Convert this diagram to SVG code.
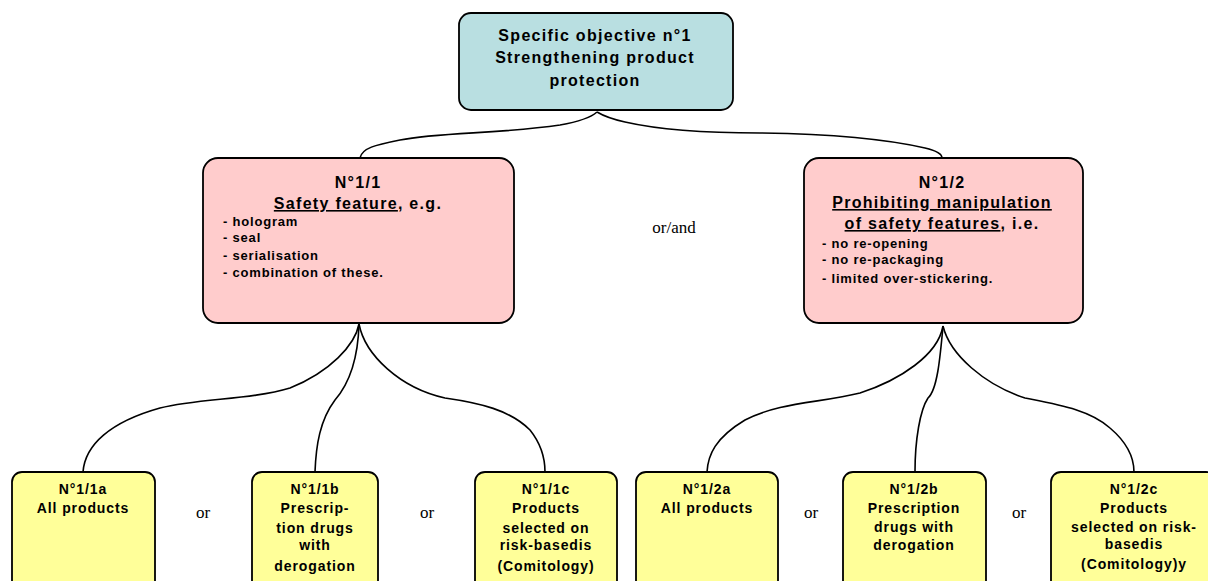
<svg xmlns="http://www.w3.org/2000/svg" width="1208" height="581" viewBox="0 0 1208 581">
<style>
.box{stroke:#000;stroke-width:1.8}
.blue{fill:#b9dfe1}
.pink{fill:#ffcccc}
.yel{fill:#ffff99}
.t{font-family:"Liberation Sans",Arial,sans-serif;font-weight:bold;fill:#000}
.h{font-size:16px;letter-spacing:1.3px;text-anchor:middle}
.b{font-size:13px;letter-spacing:0.8px}
.y{font-size:14px;letter-spacing:0.9px;text-anchor:middle}
.s{font-family:"Liberation Serif","Times New Roman",serif;font-size:17px;fill:#000;text-anchor:middle}
.c{fill:none;stroke:#000;stroke-width:1.6}
.u{text-decoration:underline}
</style>
<rect width="1208" height="581" fill="#fff"/>
<g id="connectors">
<path class="c" d="M597,112 Q588,120 560,125 C500,134 440,132 400,140 C375,145 362,148 360,158"/>
<path class="c" d="M597,112 Q607,118 625,122 C660,130 700,133 760,133 C830,134 890,140 925,148 C938,151 942,154 942,158"/>
<path class="c" d="M359,324 C355,345 330,372 290,388 C250,400 200,398 160,408 C110,422 85,445 83,472"/>
<path class="c" d="M359,324 C358,360 348,385 335,400 C320,420 316,445 315,472"/>
<path class="c" d="M359,324 C365,355 400,388 445,398 C480,403 510,410 530,430 C542,445 545,460 545,472"/>
<path class="c" d="M943,326 C938,355 900,380 860,393 C820,403 780,402 745,420 C715,438 708,455 707,472"/>
<path class="c" d="M943,326 C940,360 937,390 928,398 C920,410 915,440 915,472"/>
<path class="c" d="M943,326 C950,355 985,385 1025,398 C1060,405 1090,410 1110,428 C1130,445 1134,460 1134,472"/>
</g>
<g id="objective">
<rect class="box blue" x="459" y="13" width="274" height="97" rx="12"/>
<text class="t h" x="595" y="41">Specific objective n°1</text>
<text class="t h" x="595" y="63">Strengthening product</text>
<text class="t h" x="595" y="86">protection</text>
</g>
<g id="n11">
<rect class="box pink" x="203" y="158" width="311" height="165" rx="15"/>
<text class="t h" x="358" y="188">N°1/1</text>
<text class="t h" x="358" y="209"><tspan class="u">Safety feature</tspan>, e.g.</text>
<text class="t b" x="223" y="226">- hologram</text>
<text class="t b" x="223" y="242">- seal</text>
<text class="t b" x="223" y="260">- serialisation</text>
<text class="t b" x="223" y="277">- combination of these.</text>
</g>
<g id="n12">
<rect class="box pink" x="804" y="158" width="279" height="165" rx="15"/>
<text class="t h" x="942" y="188">N°1/2</text>
<text class="t h" x="942" y="208"><tspan class="u">Prohibiting manipulation</tspan></text>
<text class="t h" x="942" y="229"><tspan class="u">of safety features</tspan>, i.e.</text>
<text class="t b" x="822" y="248">- no re-opening</text>
<text class="t b" x="822" y="264">- no re-packaging</text>
<text class="t b" x="822" y="283">- limited over-stickering.</text>
</g>
<text class="s" x="674" y="233">or/and</text>
<g id="n11a">
<rect class="box yel" x="12" y="472" width="143" height="120" rx="10"/>
<text class="t y" x="83" y="494">N°1/1a</text>
<text class="t y" x="83" y="513">All products</text>
</g>
<text class="s" x="203" y="518">or</text>
<g id="n11b">
<rect class="box yel" x="252" y="472" width="126" height="120" rx="10"/>
<text class="t y" x="315" y="494">N°1/1b</text>
<text class="t y" x="315" y="513">Prescrip-</text>
<text class="t y" x="315" y="533">tion drugs</text>
<text class="t y" x="315" y="550">with</text>
<text class="t y" x="315" y="571">derogation</text>
</g>
<text class="s" x="427" y="518">or</text>
<g id="n11c">
<rect class="box yel" x="475" y="472" width="142" height="120" rx="10"/>
<text class="t y" x="546" y="494">N°1/1c</text>
<text class="t y" x="546" y="513">Products</text>
<text class="t y" x="546" y="533">selected on</text>
<text class="t y" x="546" y="550">risk-basedis</text>
<text class="t y" x="546" y="571">(Comitology)</text>
</g>
<g id="n12a">
<rect class="box yel" x="636" y="472" width="142" height="120" rx="10"/>
<text class="t y" x="707" y="494">N°1/2a</text>
<text class="t y" x="707" y="513">All products</text>
</g>
<text class="s" x="811" y="518">or</text>
<g id="n12b">
<rect class="box yel" x="843" y="472" width="143" height="120" rx="10"/>
<text class="t y" x="914" y="494">N°1/2b</text>
<text class="t y" x="914" y="513">Prescription</text>
<text class="t y" x="914" y="532">drugs with</text>
<text class="t y" x="914" y="550">derogation</text>
</g>
<text class="s" x="1019" y="518">or</text>
<g id="n12c">
<rect class="box yel" x="1051" y="472" width="165" height="120" rx="10"/>
<text class="t y" x="1134" y="494">N°1/2c</text>
<text class="t y" x="1134" y="513">Products</text>
<text class="t y" x="1134" y="532">selected on risk-</text>
<text class="t y" x="1134" y="549">basedis</text>
<text class="t y" x="1134" y="569">(Comitology)y</text>
</g>
</svg>
